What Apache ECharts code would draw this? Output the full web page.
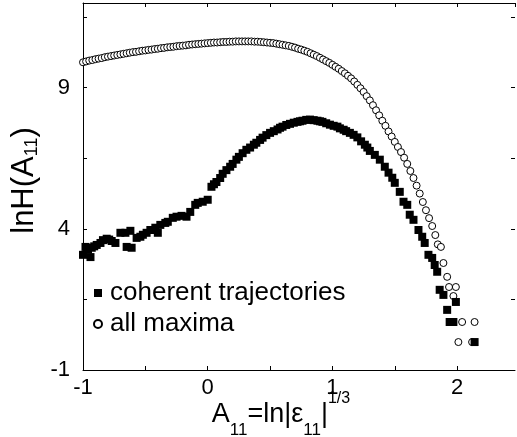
<!DOCTYPE html>
<html>
<head>
<meta charset="utf-8">
<script src="https://cdn.jsdelivr.net/npm/echarts@6/dist/echarts.min.js"></script>
<style>
  html, body { margin: 0; padding: 0; background: #fff; }
  #chart { width: 517px; height: 437px; }
</style>
</head>
<body>
<div id="chart"></div>
<script>
// tick labels shown on the axes
var xTickLabels = [-1, 0, 1, 2]
var yTickLabels = [-1, 4, 9]

// open circles: all maxima  [A11, lnH]
var allMaxima = [
  [-1.000, 9.90], [-0.975, 9.93], [-0.950, 9.96], [-0.925, 9.98], [-0.900, 10.01],
  [-0.875, 10.03], [-0.850, 10.05], [-0.825, 10.08], [-0.800, 10.10], [-0.775, 10.12],
  [-0.750, 10.14], [-0.725, 10.16], [-0.700, 10.18], [-0.675, 10.20], [-0.650, 10.22],
  [-0.625, 10.24], [-0.600, 10.26], [-0.575, 10.27], [-0.550, 10.29], [-0.525, 10.31],
  [-0.500, 10.32], [-0.475, 10.34], [-0.450, 10.35], [-0.425, 10.37], [-0.400, 10.38],
  [-0.375, 10.40], [-0.350, 10.41], [-0.325, 10.43], [-0.300, 10.44], [-0.275, 10.45],
  [-0.250, 10.47], [-0.225, 10.48], [-0.200, 10.49], [-0.175, 10.50], [-0.150, 10.52],
  [-0.125, 10.53], [-0.100, 10.54], [-0.075, 10.55], [-0.050, 10.56], [-0.025, 10.57],
  [0.000, 10.58], [0.025, 10.59], [0.050, 10.60], [0.075, 10.60], [0.100, 10.61],
  [0.125, 10.62], [0.150, 10.62], [0.175, 10.63], [0.200, 10.63], [0.225, 10.64],
  [0.250, 10.64], [0.275, 10.64], [0.300, 10.64], [0.325, 10.64], [0.350, 10.64],
  [0.375, 10.63], [0.400, 10.63], [0.425, 10.62], [0.450, 10.61], [0.475, 10.60],
  [0.500, 10.59], [0.525, 10.58], [0.550, 10.56], [0.575, 10.54], [0.600, 10.52],
  [0.625, 10.50], [0.650, 10.48], [0.675, 10.45], [0.700, 10.42], [0.725, 10.38],
  [0.750, 10.35], [0.775, 10.31], [0.800, 10.27], [0.825, 10.22], [0.850, 10.17],
  [0.875, 10.12], [0.900, 10.06], [0.925, 10.00], [0.950, 9.94], [0.975, 9.88],
  [1.000, 9.81], [1.025, 9.74], [1.050, 9.67], [1.075, 9.59], [1.100, 9.51],
  [1.125, 9.42], [1.150, 9.33], [1.175, 9.22], [1.200, 9.10], [1.225, 8.98],
  [1.250, 8.85], [1.275, 8.70], [1.300, 8.55], [1.325, 8.38], [1.350, 8.20],
  [1.375, 8.02], [1.400, 7.83], [1.425, 7.65], [1.450, 7.45], [1.475, 7.27],
  [1.500, 7.08], [1.525, 6.90], [1.550, 6.72], [1.575, 6.52], [1.600, 6.30],
  [1.625, 6.05], [1.650, 5.80], [1.675, 5.53], [1.700, 5.25], [1.725, 4.95],
  [1.750, 4.66], [1.775, 4.38], [1.800, 4.10], [1.825, 3.78], [1.845, 3.45],
  [1.870, 3.36], [1.890, 2.79], [1.920, 2.30], [1.935, 1.94], [1.970, 1.62],
  [1.990, 1.94], [2.040, 0.70], [2.140, 0.70], [2.010, -0.01], [2.120, -0.01]
]

// filled squares: coherent trajectories  [A11, lnH]
var coherent = [
  [-1.00, 3.08], [-0.98, 3.36], [-0.96, 3.26], [-0.94, 3.00], [-0.93, 3.33],
  [-0.91, 3.38], [-0.89, 3.43], [-0.86, 3.50], [-0.84, 3.60], [-0.81, 3.65],
  [-0.79, 3.62], [-0.77, 3.57], [-0.74, 3.50], [-0.70, 3.86], [-0.66, 3.86],
  [-0.62, 3.93], [-0.65, 3.36], [-0.61, 3.33], [-0.57, 3.68], [-0.54, 3.72],
  [-0.52, 3.79], [-0.49, 3.86], [-0.46, 3.96], [-0.42, 4.04], [-0.40, 3.86],
  [-0.38, 4.14], [-0.34, 4.21], [-0.32, 4.25], [-0.28, 4.39], [-0.25, 4.43],
  [-0.21, 4.46], [-0.17, 4.43], [-0.14, 4.60], [-0.10, 4.85], [-0.08, 4.92],
  [-0.04, 4.96], [0.00, 5.03],
  [0.03, 5.49], [0.05, 5.58], [0.07, 5.66], [0.10, 5.80], [0.12, 5.95],
  [0.15, 6.08], [0.18, 6.20], [0.20, 6.30], [0.23, 6.45], [0.25, 6.55],
  [0.28, 6.68], [0.31, 6.80], [0.34, 6.88], [0.37, 6.98], [0.39, 7.05],
  [0.42, 7.15], [0.44, 7.23], [0.47, 7.32], [0.50, 7.40], [0.53, 7.46],
  [0.56, 7.52], [0.58, 7.58], [0.60, 7.62], [0.63, 7.68], [0.66, 7.72],
  [0.69, 7.76], [0.72, 7.79], [0.74, 7.81], [0.76, 7.83], [0.79, 7.86],
  [0.82, 7.87], [0.85, 7.85], [0.88, 7.83], [0.90, 7.81], [0.92, 7.79],
  [0.95, 7.74], [0.98, 7.69], [1.01, 7.65], [1.04, 7.62], [1.06, 7.56],
  [1.09, 7.51], [1.11, 7.46], [1.14, 7.40], [1.17, 7.33], [1.20, 7.24],
  [1.23, 7.10], [1.26, 6.98], [1.28, 6.88], [1.30, 6.76], [1.34, 6.62],
  [1.38, 6.45], [1.42, 6.20], [1.45, 5.99], [1.48, 5.81], [1.50, 5.63],
  [1.54, 5.31], [1.57, 4.96], [1.60, 4.85], [1.62, 4.50], [1.65, 4.32],
  [1.69, 3.96], [1.72, 3.72], [1.74, 3.50], [1.77, 3.08], [1.80, 2.97],
  [1.82, 2.72], [1.84, 2.48], [1.86, 1.84], [1.89, 1.66], [1.99, 1.41],
  [1.92, 1.13], [1.94, 0.70], [1.97, 0.70], [2.14, -0.01]
]

var FONT = 'Liberation Sans'

var chart = echarts.init(document.getElementById('chart'), null, {renderer: 'canvas'})

var axisLine = {show: true, onZero: false, lineStyle: {color: '#000', width: 1}}
var axisTick = {show: true, inside: true, length: 4, lineStyle: {color: '#000'}}

chart.setOption({
  animation: false,
  backgroundColor: '#fff',
  grid: {left: 83, right: 2, top: 3, bottom: 67, containLabel: false, outerBoundsMode: 'none'},
  legend: {
    data: ['coherent trajectories', 'all maxima'],
    orient: 'vertical',
    left: 88,
    top: 275,
    itemWidth: 8,
    itemHeight: 8,
    itemGap: 5,
    selectedMode: false,
    textStyle: {fontFamily: FONT, fontSize: 26, color: '#000', padding: [0, 0, 0, 3]}
  },
  xAxis: [{
    type: 'value',
    position: 'bottom',
    min: -1,
    max: 2.464,
    interval: 0.5,
    axisLine: axisLine,
    axisTick: axisTick,
    splitLine: {show: false},
    axisLabel: {
      fontFamily: FONT, fontSize: 22, color: '#000', margin: 7,
      showMaxLabel: false,
      formatter: function (v) {
        return xTickLabels.indexOf(v) >= 0 ? String(v) : ''
      }
    },
    name: '{m|A}{s|11}{m|=ln|ε}{s|11}{m||}{p|1/3}',
    nameLocation: 'middle',
    nameGap: 21,
    nameMoveOverlap: false,
    nameTextStyle: {
      padding: [0, 36, 0, 0],
      rich: {
        m: {fontFamily: FONT, fontSize: 27, lineHeight: 48, color: '#000'},
        s: {fontFamily: FONT, fontSize: 17, lineHeight: 26, verticalAlign: 'bottom', color: '#000'},
        p: {fontFamily: FONT, fontSize: 16, lineHeight: 16, verticalAlign: 'top', color: '#000'}
      }
    }
  }, {
    type: 'value',
    position: 'top',
    min: -1,
    max: 2.464,
    interval: 0.5,
    axisLine: axisLine,
    axisTick: axisTick,
    splitLine: {show: false},
    axisLabel: {show: false}
  }],
  yAxis: [{
    type: 'value',
    position: 'left',
    min: -1,
    max: 12,
    interval: 2.5,
    axisLine: axisLine,
    axisTick: axisTick,
    splitLine: {show: false},
    axisLabel: {
      fontFamily: FONT, fontSize: 22, color: '#000', margin: 13,
      showMaxLabel: false,
      formatter: function (v) {
        return yTickLabels.indexOf(v) >= 0 ? String(v) : ''
      }
    },
    name: '{m|lnH(A}{s|11}{m|)}',
    nameLocation: 'middle',
    nameGap: 42,
    nameMoveOverlap: false,
    nameTextStyle: {
      padding: [0, 0, 0, 12],
      rich: {
        m: {fontFamily: FONT, fontSize: 31, lineHeight: 34, color: '#000'},
        s: {fontFamily: FONT, fontSize: 18, lineHeight: 18, verticalAlign: 'bottom', color: '#000'}
      }
    }
  }, {
    type: 'value',
    position: 'right',
    min: -1,
    max: 12,
    interval: 2.5,
    axisLine: {show: false, onZero: false},
    axisTick: axisTick,
    splitLine: {show: false},
    axisLabel: {show: false}
  }],
  series: [
    {
      name: 'all maxima',
      type: 'scatter',
      symbol: 'circle',
      symbolSize: 7,
      itemStyle: {color: '#fff', borderColor: '#000', borderWidth: 1, opacity: 1},
      data: allMaxima
    },
    {
      name: 'coherent trajectories',
      type: 'scatter',
      symbol: 'rect',
      symbolSize: 8,
      itemStyle: {color: '#000', opacity: 1},
      data: coherent
    }
  ]
})
</script>
</body>
</html>
